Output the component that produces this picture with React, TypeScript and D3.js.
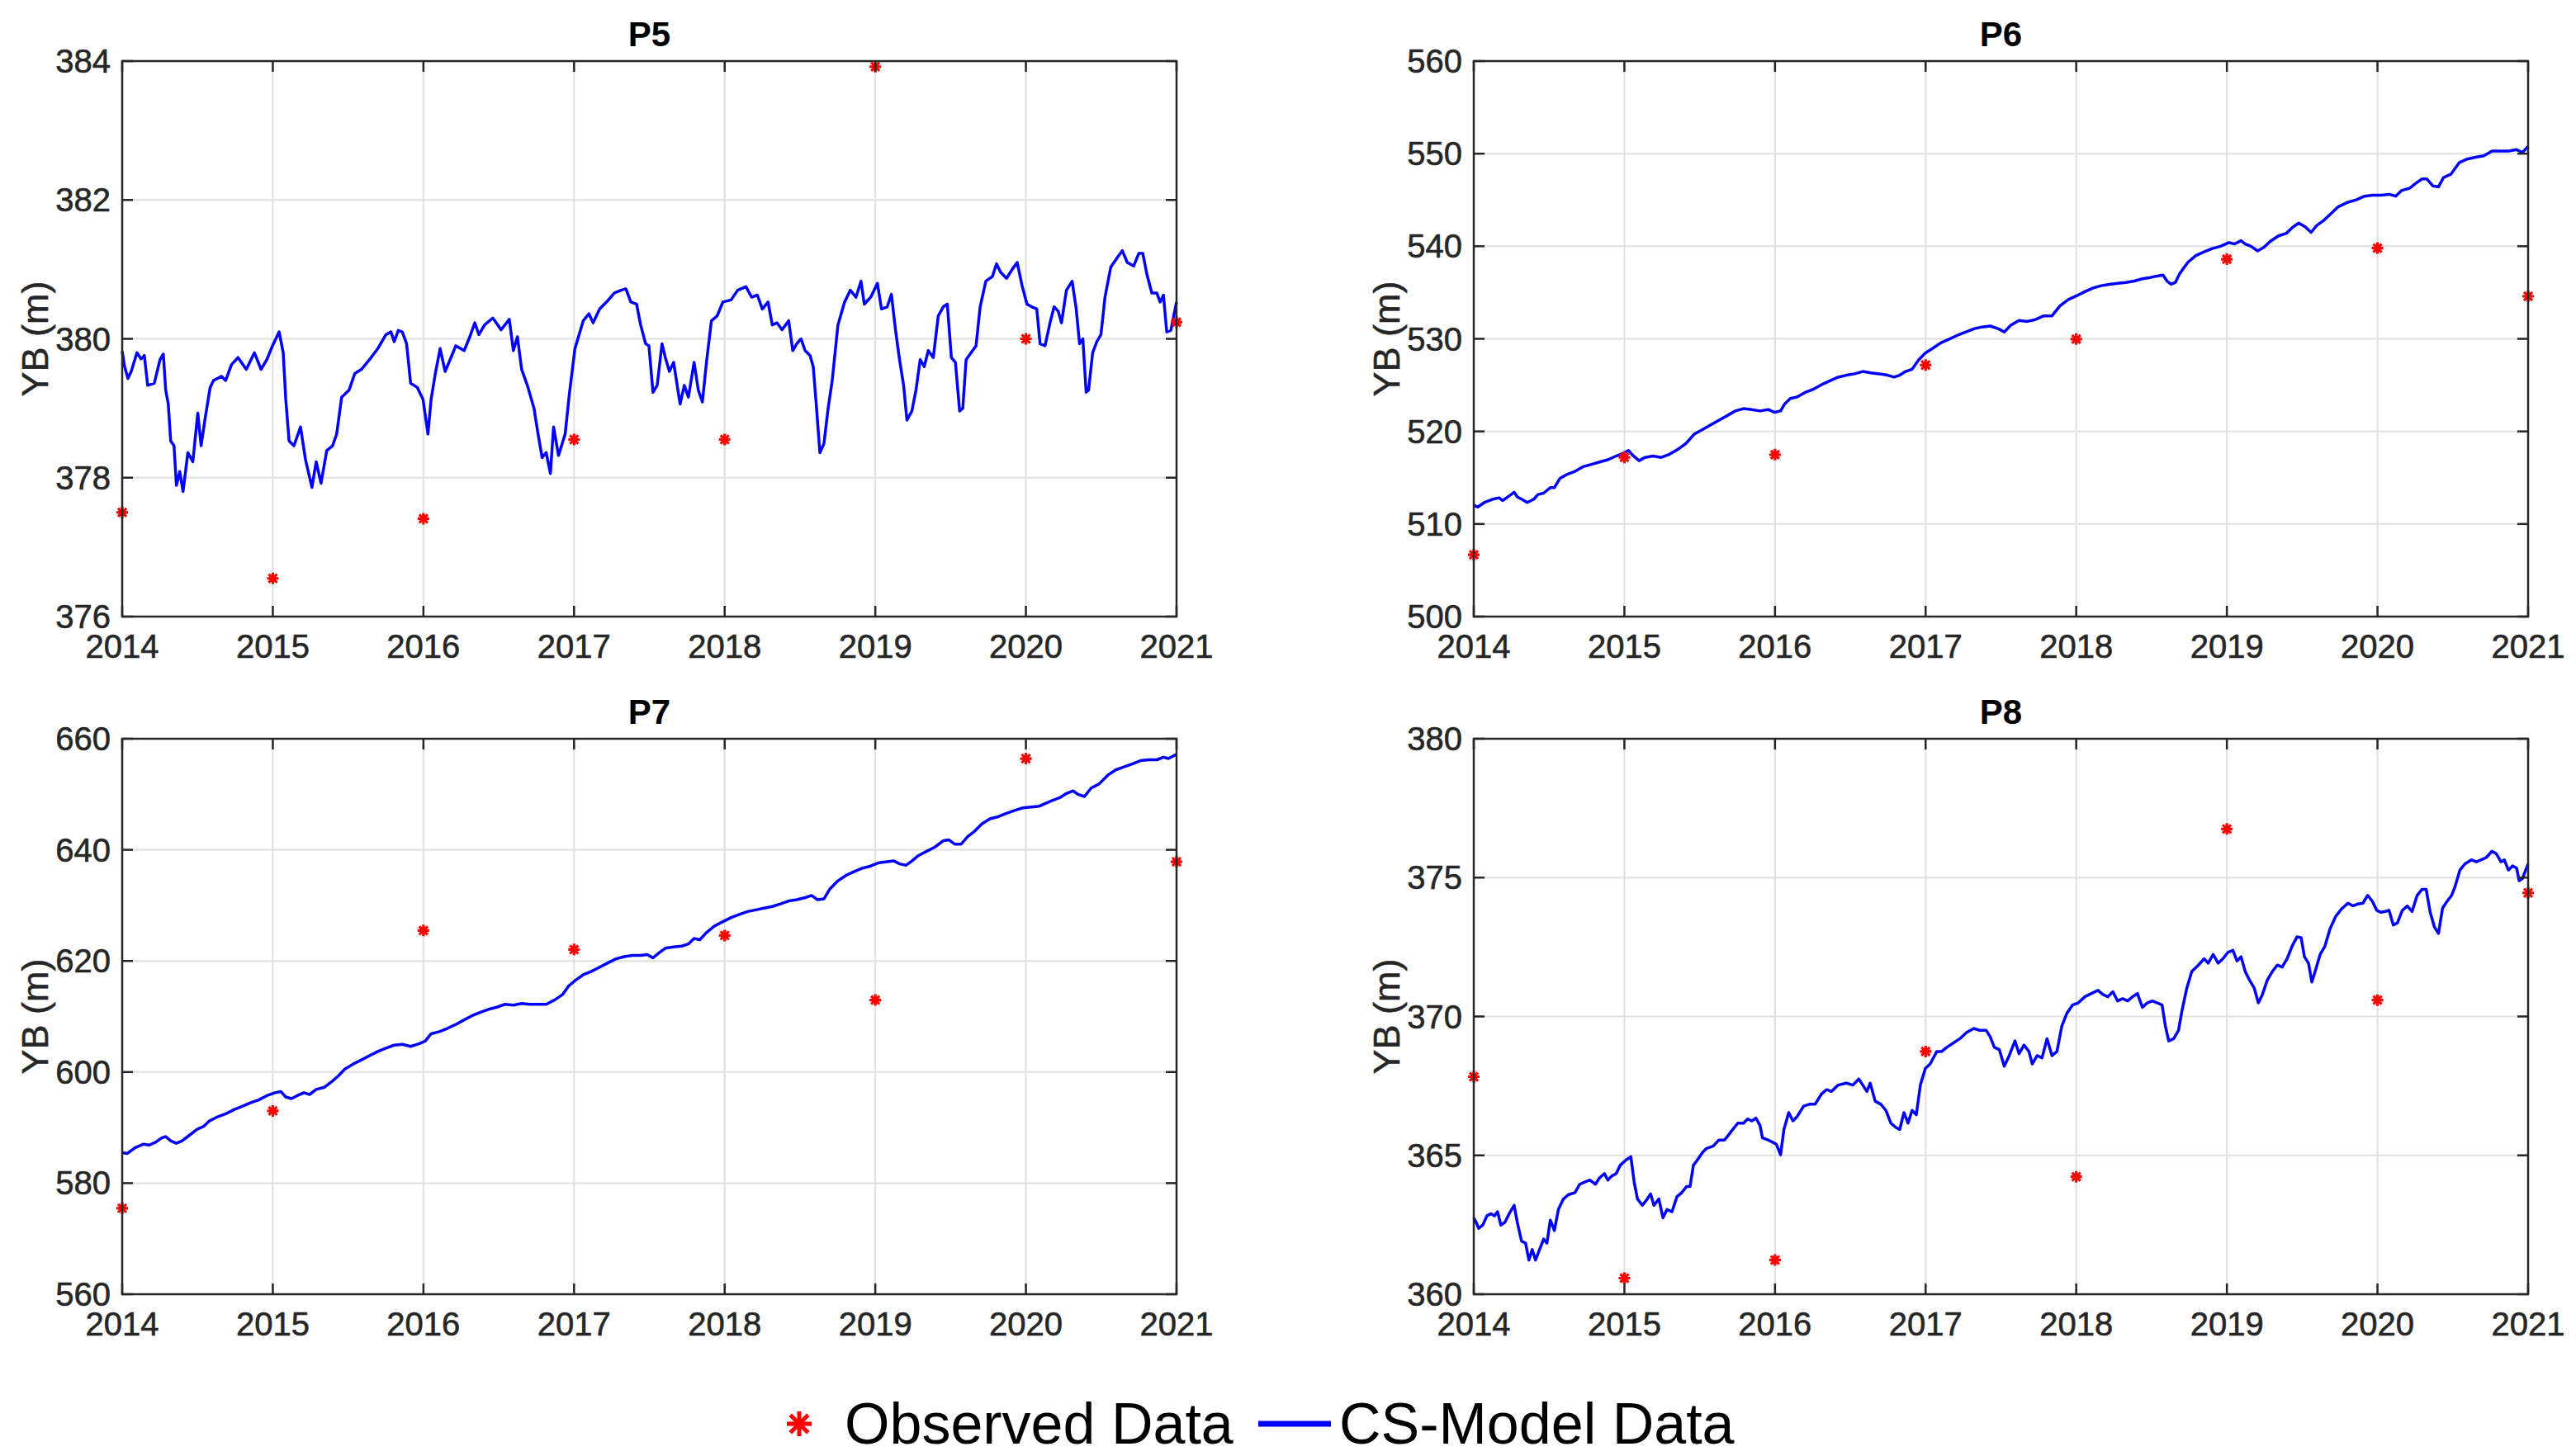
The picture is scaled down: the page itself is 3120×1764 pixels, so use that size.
import React from 'react';
import * as d3 from 'd3';

// x axis years (observations are yearly)
const years = [2014, 2015, 2016, 2017, 2018, 2019, 2020, 2021];

// observed YB (m), one per year
const obsP5 = [377.5, 376.55, 377.41, 378.55, 378.55, 383.92, 380.0, 380.24];
const obsP6 = [506.67, 517.19, 517.49, 527.17, 529.97, 538.6, 539.8, 534.59];
const obsP7 = [575.48, 593.0, 625.48, 622.06, 624.57, 612.96, 656.43, 637.85];
const obsP8 = [367.83, 360.58, 361.23, 368.74, 364.23, 376.75, 370.59, 374.45];

// y ticks of each panel
const ticksP5 = [376, 378, 380, 382, 384];
const ticksP6 = [500, 510, 520, 530, 540, 550, 560];
const ticksP7 = [560, 580, 600, 620, 640, 660];
const ticksP8 = [360, 365, 370, 375, 380];

// CS-model series: [years since 2014, YB (m)]
const modelP5: [number, number][] = [
  [0, 379.82], [0.016, 379.6], [0.038, 379.43], [0.06, 379.53], [0.098, 379.8], [0.125, 379.71], [0.147, 379.76],
  [0.169, 379.33], [0.213, 379.36], [0.251, 379.7], [0.273, 379.78], [0.289, 379.26], [0.306, 379.06], [0.322, 378.53],
  [0.344, 378.46], [0.36, 377.89], [0.382, 378.09], [0.404, 377.8], [0.436, 378.36], [0.469, 378.23], [0.502, 378.93],
  [0.524, 378.46], [0.551, 378.86], [0.584, 379.3], [0.606, 379.4], [0.66, 379.46], [0.687, 379.4], [0.726, 379.63],
  [0.769, 379.73], [0.824, 379.56], [0.878, 379.8], [0.922, 379.56], [0.96, 379.7], [0.998, 379.9], [1.042, 380.1],
  [1.069, 379.8], [1.086, 379.13], [1.108, 378.53], [1.14, 378.46], [1.184, 378.73], [1.217, 378.26], [1.26, 377.86],
  [1.288, 378.23], [1.32, 377.92], [1.358, 378.39], [1.397, 378.46], [1.424, 378.63], [1.457, 379.16], [1.506, 379.26],
  [1.544, 379.5], [1.588, 379.56], [1.642, 379.7], [1.697, 379.86], [1.751, 380.06], [1.784, 380.1], [1.806, 379.96],
  [1.833, 380.12], [1.86, 380.1], [1.888, 379.93], [1.915, 379.36], [1.959, 379.3], [1.997, 379.13], [2.03, 378.63],
  [2.051, 379.13], [2.079, 379.5], [2.111, 379.86], [2.144, 379.53], [2.177, 379.7], [2.215, 379.9], [2.27, 379.83],
  [2.308, 380.03], [2.341, 380.23], [2.368, 380.06], [2.406, 380.2], [2.461, 380.3], [2.515, 380.13], [2.57, 380.28],
  [2.597, 379.83], [2.624, 380.03], [2.652, 379.56], [2.69, 379.33], [2.734, 379.0], [2.761, 378.63], [2.788, 378.29],
  [2.815, 378.36], [2.843, 378.06], [2.864, 378.73], [2.897, 378.32], [2.941, 378.63], [2.968, 379.19], [3.006, 379.86],
  [3.061, 380.26], [3.099, 380.36], [3.126, 380.23], [3.17, 380.43], [3.224, 380.55], [3.268, 380.66], [3.312, 380.7],
  [3.344, 380.72], [3.377, 380.53], [3.415, 380.5], [3.442, 380.2], [3.475, 379.93], [3.497, 379.9], [3.524, 379.23],
  [3.552, 379.33], [3.584, 379.93], [3.606, 379.73], [3.633, 379.53], [3.661, 379.66], [3.704, 379.06], [3.732, 379.33],
  [3.759, 379.16], [3.797, 379.66], [3.825, 379.26], [3.852, 379.09], [3.879, 379.66], [3.912, 380.26], [3.95, 380.33],
  [3.988, 380.53], [4.043, 380.56], [4.086, 380.7], [4.141, 380.75], [4.179, 380.6], [4.217, 380.63], [4.25, 380.43],
  [4.288, 380.53], [4.316, 380.2], [4.348, 380.23], [4.381, 380.13], [4.425, 380.26], [4.452, 379.83], [4.479, 379.93],
  [4.507, 380.0], [4.534, 379.83], [4.567, 379.76], [4.588, 379.6], [4.61, 379.0], [4.632, 378.36], [4.659, 378.49],
  [4.687, 379.0], [4.714, 379.4], [4.752, 380.2], [4.796, 380.53], [4.834, 380.7], [4.872, 380.6], [4.905, 380.83],
  [4.927, 380.5], [4.97, 380.6], [5.014, 380.8], [5.041, 380.43], [5.079, 380.46], [5.107, 380.64], [5.134, 380.13],
  [5.161, 379.7], [5.188, 379.33], [5.21, 378.83], [5.243, 378.96], [5.27, 379.26], [5.298, 379.7], [5.325, 379.6],
  [5.352, 379.83], [5.385, 379.73], [5.418, 380.33], [5.451, 380.46], [5.478, 380.5], [5.505, 379.73], [5.532, 379.66],
  [5.56, 378.96], [5.581, 379.0], [5.603, 379.7], [5.636, 379.8], [5.669, 379.9], [5.696, 380.46], [5.734, 380.83],
  [5.778, 380.9], [5.805, 381.08], [5.832, 380.96], [5.871, 380.87], [5.909, 381.0], [5.942, 381.1], [5.974, 380.77],
  [6.007, 380.5], [6.04, 380.46], [6.072, 380.43], [6.094, 379.93], [6.127, 379.9], [6.16, 380.23], [6.187, 380.46],
  [6.214, 380.4], [6.236, 380.23], [6.269, 380.7], [6.307, 380.83], [6.334, 380.43], [6.356, 379.93], [6.378, 380.0],
  [6.4, 379.23], [6.416, 379.26], [6.443, 379.8], [6.471, 379.96], [6.498, 380.06], [6.525, 380.6], [6.563, 381.03],
  [6.607, 381.17], [6.64, 381.27], [6.673, 381.1], [6.716, 381.05], [6.749, 381.23], [6.776, 381.23], [6.803, 380.93],
  [6.836, 380.66], [6.869, 380.66], [6.891, 380.53], [6.913, 380.63], [6.935, 380.1], [6.962, 380.12], [7.0, 380.53],
];

const modelP6: [number, number][] = [
  [0, 512.03], [0.027, 511.83], [0.071, 512.33], [0.126, 512.68], [0.169, 512.83], [0.191, 512.53], [0.235, 513.03],
  [0.268, 513.43], [0.289, 512.93], [0.317, 512.68], [0.355, 512.33], [0.399, 512.68], [0.426, 513.18], [0.464, 513.33],
  [0.508, 513.93], [0.535, 513.93], [0.573, 514.94], [0.617, 515.34], [0.672, 515.69], [0.726, 516.19], [0.781, 516.44],
  [0.835, 516.69], [0.89, 516.94], [0.945, 517.34], [0.999, 517.69], [1.027, 517.94], [1.054, 517.44], [1.098, 516.84],
  [1.136, 517.19], [1.19, 517.34], [1.245, 517.19], [1.3, 517.54], [1.354, 518.05], [1.409, 518.7], [1.463, 519.7],
  [1.518, 520.2], [1.573, 520.7], [1.627, 521.2], [1.682, 521.7], [1.736, 522.21], [1.791, 522.46], [1.846, 522.36],
  [1.9, 522.21], [1.955, 522.36], [1.998, 522.06], [2.037, 522.21], [2.064, 522.96], [2.102, 523.56], [2.146, 523.71],
  [2.2, 524.21], [2.255, 524.56], [2.31, 525.06], [2.364, 525.46], [2.419, 525.86], [2.474, 526.07], [2.528, 526.22],
  [2.583, 526.47], [2.637, 526.32], [2.692, 526.22], [2.747, 526.07], [2.79, 525.86], [2.828, 526.07], [2.867, 526.47],
  [2.91, 526.72], [2.954, 527.72], [2.998, 528.47], [3.047, 528.97], [3.101, 529.57], [3.156, 529.97], [3.211, 530.38],
  [3.265, 530.73], [3.32, 531.08], [3.374, 531.28], [3.429, 531.38], [3.484, 531.08], [3.522, 530.73], [3.566, 531.48],
  [3.62, 531.98], [3.675, 531.88], [3.729, 532.08], [3.784, 532.48], [3.839, 532.48], [3.893, 533.58], [3.948, 534.24],
  [4.002, 534.64], [4.057, 535.09], [4.112, 535.49], [4.166, 535.74], [4.221, 535.89], [4.275, 535.99], [4.33, 536.09],
  [4.385, 536.24], [4.439, 536.49], [4.483, 536.59], [4.521, 536.74], [4.576, 536.89], [4.603, 536.24], [4.63, 535.89],
  [4.658, 536.09], [4.685, 536.99], [4.74, 538.25], [4.794, 539.0], [4.849, 539.4], [4.903, 539.75], [4.958, 540.0],
  [5.013, 540.4], [5.051, 540.25], [5.094, 540.6], [5.122, 540.25], [5.16, 540.0], [5.204, 539.5], [5.247, 539.9],
  [5.286, 540.5], [5.34, 541.1], [5.395, 541.4], [5.433, 542.0], [5.477, 542.5], [5.52, 542.1], [5.559, 541.5],
  [5.597, 542.25], [5.641, 542.76], [5.684, 543.41], [5.739, 544.26], [5.804, 544.76], [5.859, 545.01], [5.914, 545.41],
  [5.968, 545.51], [6.023, 545.51], [6.077, 545.61], [6.121, 545.41], [6.159, 546.01], [6.214, 546.27], [6.252, 546.77],
  [6.296, 547.27], [6.328, 547.27], [6.367, 546.52], [6.405, 546.42], [6.438, 547.42], [6.487, 547.77], [6.542, 549.02],
  [6.596, 549.42], [6.651, 549.62], [6.706, 549.77], [6.76, 550.28], [6.815, 550.28], [6.87, 550.28], [6.924, 550.43],
  [6.962, 550.13], [7.0, 550.78],
];

const modelP7: [number, number][] = [
  [0, 585.49], [0.033, 585.34], [0.087, 586.4], [0.142, 587.01], [0.18, 586.86], [0.224, 587.39], [0.262, 588.15],
  [0.289, 588.38], [0.322, 587.62], [0.36, 587.16], [0.398, 587.62], [0.442, 588.53], [0.496, 589.67], [0.54, 590.2],
  [0.578, 591.18], [0.633, 591.94], [0.687, 592.47], [0.742, 593.23], [0.797, 593.84], [0.851, 594.45], [0.906, 594.98],
  [0.96, 595.74], [1.015, 596.27], [1.053, 596.49], [1.086, 595.51], [1.124, 595.21], [1.162, 595.74], [1.206, 596.27],
  [1.244, 595.96], [1.288, 596.87], [1.342, 597.25], [1.397, 598.39], [1.435, 599.3], [1.478, 600.52], [1.533, 601.43],
  [1.588, 602.18], [1.642, 602.94], [1.697, 603.7], [1.751, 604.31], [1.806, 604.84], [1.86, 604.99], [1.915, 604.61],
  [1.97, 605.07], [2.013, 605.6], [2.051, 606.89], [2.106, 607.27], [2.161, 607.88], [2.215, 608.56], [2.27, 609.39],
  [2.324, 610.15], [2.379, 610.76], [2.433, 611.29], [2.488, 611.67], [2.542, 612.2], [2.597, 612.05], [2.652, 612.35],
  [2.706, 612.2], [2.761, 612.2], [2.815, 612.2], [2.87, 612.96], [2.924, 613.95], [2.963, 615.46], [3.006, 616.45],
  [3.061, 617.51], [3.115, 618.12], [3.17, 618.88], [3.224, 619.64], [3.279, 620.39], [3.334, 620.77], [3.388, 621.0],
  [3.443, 621.0], [3.486, 621.15], [3.524, 620.55], [3.568, 621.53], [3.606, 622.29], [3.661, 622.52], [3.715, 622.67],
  [3.759, 623.05], [3.797, 624.04], [3.835, 623.81], [3.879, 625.1], [3.934, 626.31], [3.988, 627.07], [4.043, 627.82],
  [4.097, 628.36], [4.152, 628.89], [4.206, 629.19], [4.261, 629.5], [4.316, 629.8], [4.37, 630.26], [4.425, 630.79],
  [4.479, 631.02], [4.534, 631.4], [4.577, 631.78], [4.616, 631.02], [4.659, 631.17], [4.697, 632.91], [4.752, 634.43],
  [4.807, 635.42], [4.861, 636.1], [4.916, 636.71], [4.97, 637.09], [5.025, 637.69], [5.079, 637.85], [5.123, 638.0],
  [5.161, 637.47], [5.205, 637.24], [5.243, 638.0], [5.287, 638.98], [5.341, 639.74], [5.396, 640.5], [5.451, 641.64],
  [5.489, 641.79], [5.527, 641.03], [5.57, 641.03], [5.614, 642.4], [5.658, 643.31], [5.707, 644.67], [5.761, 645.58],
  [5.816, 645.96], [5.871, 646.57], [5.925, 647.1], [5.98, 647.56], [6.034, 647.72], [6.089, 647.87], [6.127, 648.33],
  [6.171, 648.85], [6.225, 649.39], [6.269, 650.15], [6.313, 650.61], [6.345, 650.0], [6.389, 649.6], [6.433, 651.12],
  [6.487, 651.88], [6.542, 653.4], [6.596, 654.39], [6.651, 654.92], [6.705, 655.45], [6.76, 656.06], [6.815, 656.21],
  [6.869, 656.21], [6.913, 656.67], [6.946, 656.44], [7.0, 657.19],
];

const modelP8: [number, number][] = [
  [0, 362.75], [0.016, 362.59], [0.033, 362.37], [0.06, 362.49], [0.087, 362.82], [0.115, 362.9], [0.137, 362.82],
  [0.158, 362.97], [0.18, 362.49], [0.207, 362.59], [0.235, 362.9], [0.268, 363.2], [0.289, 362.59], [0.317, 361.91],
  [0.344, 361.84], [0.366, 361.23], [0.388, 361.61], [0.41, 361.23], [0.431, 361.53], [0.464, 361.99], [0.486, 361.84],
  [0.508, 362.67], [0.535, 362.29], [0.562, 363.05], [0.595, 363.43], [0.628, 363.58], [0.672, 363.66], [0.704, 363.96],
  [0.737, 364.04], [0.77, 364.11], [0.808, 363.96], [0.835, 364.19], [0.868, 364.34], [0.89, 364.11], [0.917, 364.26],
  [0.945, 364.34], [0.972, 364.64], [1.01, 364.83], [1.043, 364.95], [1.065, 364.04], [1.087, 363.43], [1.119, 363.2],
  [1.152, 363.43], [1.174, 363.61], [1.196, 363.2], [1.229, 363.43], [1.256, 362.75], [1.283, 363.05], [1.316, 362.97],
  [1.349, 363.51], [1.381, 363.66], [1.414, 363.88], [1.436, 363.88], [1.458, 364.64], [1.48, 364.8], [1.518, 365.1],
  [1.545, 365.25], [1.589, 365.33], [1.627, 365.55], [1.665, 365.55], [1.709, 365.86], [1.753, 366.16], [1.791, 366.16],
  [1.818, 366.31], [1.846, 366.24], [1.873, 366.34], [1.9, 366.08], [1.917, 365.63], [1.955, 365.55], [1.982, 365.48],
  [2.009, 365.4], [2.037, 365.02], [2.059, 365.93], [2.091, 366.54], [2.119, 366.24], [2.146, 366.39], [2.19, 366.77],
  [2.228, 366.84], [2.266, 366.84], [2.31, 367.22], [2.343, 367.37], [2.375, 367.3], [2.419, 367.53], [2.474, 367.6],
  [2.517, 367.53], [2.556, 367.75], [2.583, 367.53], [2.61, 367.3], [2.632, 367.6], [2.665, 366.95], [2.703, 366.84],
  [2.736, 366.62], [2.769, 366.16], [2.801, 366.01], [2.828, 365.93], [2.856, 366.54], [2.883, 366.16], [2.91, 366.62],
  [2.938, 366.46], [2.965, 367.53], [2.998, 368.13], [3.03, 368.29], [3.074, 368.74], [3.107, 368.74], [3.14, 368.89],
  [3.183, 369.04], [3.227, 369.2], [3.271, 369.42], [3.32, 369.57], [3.358, 369.5], [3.402, 369.5], [3.429, 369.27],
  [3.456, 368.89], [3.489, 368.81], [3.522, 368.21], [3.555, 368.59], [3.593, 369.12], [3.62, 368.66], [3.653, 368.97],
  [3.686, 368.74], [3.708, 368.29], [3.74, 368.59], [3.773, 368.51], [3.806, 369.2], [3.839, 368.59], [3.872, 368.74],
  [3.904, 369.65], [3.937, 370.11], [3.975, 370.41], [4.013, 370.49], [4.057, 370.71], [4.101, 370.83], [4.144, 370.94],
  [4.177, 370.79], [4.21, 370.71], [4.243, 370.89], [4.275, 370.56], [4.308, 370.64], [4.341, 370.56], [4.374, 370.71],
  [4.406, 370.83], [4.439, 370.33], [4.472, 370.49], [4.505, 370.56], [4.538, 370.49], [4.57, 370.41], [4.592, 369.65],
  [4.614, 369.12], [4.647, 369.2], [4.679, 369.5], [4.701, 370.18], [4.734, 371.02], [4.767, 371.62], [4.811, 371.85],
  [4.849, 372.08], [4.876, 371.92], [4.909, 372.23], [4.942, 371.92], [4.974, 372.08], [5.007, 372.31], [5.04, 372.38],
  [5.067, 372.0], [5.094, 372.15], [5.122, 371.62], [5.149, 371.32], [5.182, 371.02], [5.209, 370.49], [5.236, 370.79],
  [5.269, 371.32], [5.302, 371.62], [5.335, 371.85], [5.367, 371.78], [5.4, 372.08], [5.433, 372.53], [5.466, 372.87],
  [5.493, 372.84], [5.515, 372.15], [5.542, 371.92], [5.564, 371.24], [5.586, 371.62], [5.619, 372.23], [5.651, 372.53],
  [5.684, 373.14], [5.722, 373.6], [5.761, 373.87], [5.804, 374.08], [5.837, 373.98], [5.87, 374.05], [5.903, 374.08],
  [5.935, 374.36], [5.968, 374.13], [5.995, 373.82], [6.023, 373.75], [6.05, 373.78], [6.077, 373.82], [6.105, 373.29],
  [6.132, 373.37], [6.165, 373.82], [6.198, 373.98], [6.23, 373.78], [6.263, 374.36], [6.296, 374.58], [6.323, 374.58],
  [6.35, 373.75], [6.378, 373.22], [6.405, 372.99], [6.432, 373.9], [6.46, 374.13], [6.492, 374.36], [6.514, 374.66],
  [6.547, 375.27], [6.58, 375.49], [6.623, 375.64], [6.656, 375.57], [6.689, 375.64], [6.722, 375.72], [6.76, 375.95],
  [6.787, 375.87], [6.82, 375.57], [6.842, 375.64], [6.869, 375.27], [6.897, 375.42], [6.924, 375.34], [6.94, 374.89],
  [6.962, 374.96], [6.984, 375.27], [7.0, 375.49],
];

const panels = [
  { title: 'P5', model: modelP5, obs: obsP5, ticks: ticksP5, left: 148, top: 74 },
  { title: 'P6', model: modelP6, obs: obsP6, ticks: ticksP6, left: 1785, top: 74 },
  { title: 'P7', model: modelP7, obs: obsP7, ticks: ticksP7, left: 148, top: 895 },
  { title: 'P8', model: modelP8, obs: obsP8, ticks: ticksP8, left: 1785, top: 895 },
];

const W = 1277;
const H = 673;
const AX = '#262626';
const FONT = '"Liberation Sans", Arial, Helvetica, sans-serif';

// matlab style '*' marker
const star = (r: number) => {
  const d = r * 0.72;
  return `M${-r},0H${r}M0,${-r}V${r}M${-d},${-d}L${d},${d}M${-d},${d}L${d},${-d}`;
};

const Panel: React.FC<{ p: (typeof panels)[number] }> = ({ p }) => {
  const x = d3.scaleLinear().domain([years[0], years[years.length - 1]]).range([0, W]);
  const y = d3
    .scaleLinear()
    .domain([p.ticks[0], p.ticks[p.ticks.length - 1]])
    .range([H, 0]);
  const line = d3
    .line<[number, number]>()
    .x((d) => x(years[0] + d[0]))
    .y((d) => y(d[1]));

  return (
    <g transform={`translate(${p.left},${p.top})`}>
      {/* grid */}
      {years.slice(1, -1).map((yr) => (
        <line key={'gx' + yr} x1={x(yr)} x2={x(yr)} y1={0} y2={H} stroke="#e0e0e0" strokeWidth={2} />
      ))}
      {p.ticks.slice(1, -1).map((t) => (
        <line key={'gy' + t} x1={0} x2={W} y1={y(t)} y2={y(t)} stroke="#e0e0e0" strokeWidth={2} />
      ))}
      <path d={line(p.model) ?? ''} fill="none" stroke="#0000ff" strokeWidth={3.5} strokeLinejoin="round" />
      {p.obs.map((v, i) => (
        <path
          key={'o' + i}
          d={star(7)}
          transform={`translate(${x(years[i])},${y(v)})`}
          stroke="#ff0000"
          strokeWidth={3.2}
          fill="none"
        />
      ))}
      {/* box + ticks */}
      <rect x={0} y={0} width={W} height={H} fill="none" stroke={AX} strokeWidth={2.5} />
      <g fontFamily={FONT} fontSize={40} fill={AX} stroke={AX} strokeWidth={0.6}>
        {years.map((yr) => (
          <g key={'tx' + yr}>
            <line x1={x(yr)} x2={x(yr)} y1={H} y2={H - 13} strokeWidth={2.5} />
            <line x1={x(yr)} x2={x(yr)} y1={0} y2={13} strokeWidth={2.5} />
            <text x={x(yr)} y={H + 50} textAnchor="middle">
              {yr}
            </text>
          </g>
        ))}
        {p.ticks.map((t) => (
          <g key={'ty' + t}>
            <line x1={0} x2={13} y1={y(t)} y2={y(t)} strokeWidth={2.5} />
            <line x1={W} x2={W - 13} y1={y(t)} y2={y(t)} strokeWidth={2.5} />
            <text x={-14} y={y(t) + 14} textAnchor="end">
              {t}
            </text>
          </g>
        ))}
      </g>
      <text x={W / 2} y={-18} textAnchor="middle" fontSize={42} fontWeight="bold" fill="#000" fontFamily={FONT}>
        {p.title}
      </text>
      <text
        transform={`translate(${-90},${H / 2}) rotate(-90)`}
        textAnchor="middle"
        fontSize={45}
        fill={AX}
        stroke={AX}
        strokeWidth={0.5}
        fontFamily={FONT}
      >
        YB (m)
      </text>
    </g>
  );
};

export default function App() {
  return (
    <div style={{ position: 'absolute', left: 0, top: 0 }}>
      <svg width={3120} height={1764} style={{ display: 'block', background: '#fff' }}>
        {panels.map((p) => (
          <Panel key={p.title} p={p} />
        ))}
        {/* legend */}
        <g fontFamily={FONT} fontSize={70} fill="#000">
          <path d={star(15)} transform="translate(968,1725)" stroke="#ff0000" strokeWidth={5} fill="none" />
          <text x={1023} y={1749}>Observed Data</text>
          <line x1={1524} x2={1612} y1={1725} y2={1725} stroke="#0000ff" strokeWidth={7} />
          <text x={1622} y={1749}>CS-Model Data</text>
        </g>
      </svg>
    </div>
  );
}
